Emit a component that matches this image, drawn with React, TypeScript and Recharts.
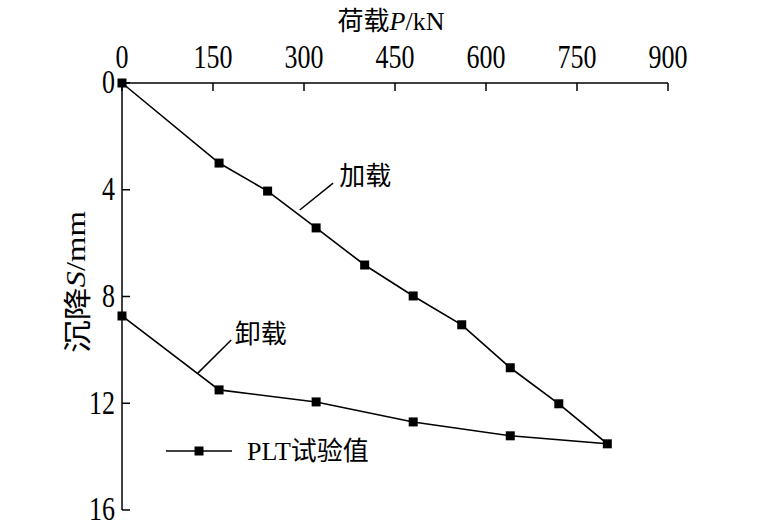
import React from 'react';
import { LineChart, Line, XAxis, YAxis, ReferenceLine, ReferenceDot } from 'recharts';

const loadP = [0, 160, 240, 320, 400, 480, 560, 640, 720, 800];
const loadS = [0, 3.0, 4.05, 5.43, 6.82, 7.98, 9.06, 10.67, 12.02, 13.52];
const unloadP = [640, 480, 320, 160, 0];
const unloadS = [13.22, 12.7, 11.95, 11.5, 8.73];
const xTicks = [0, 150, 300, 450, 600, 750, 900];
const yTicks = [0, 4, 8, 12, 16];
const seriesName = 'PLT试验值';
const loadLabel = '加载';
const unloadLabel = '卸载';
const loadLeader = [{ x: 293, y: 4.76 }, { x: 348, y: 3.75 }];
const loadLabelPos = { x: 358, y: 3.4 };
const unloadLeader = [{ x: 125, y: 10.87 }, { x: 180, y: 9.63 }];
const unloadLabelPos = { x: 186, y: 9.3 };

const data = [
  ...loadP.map((p, i) => ({ p, s: loadS[i] })),
  ...unloadP.map((p, i) => ({ p, s: unloadS[i] })),
];

const FONT = '"Liberation Serif", "Times New Roman", "Noto Sans CJK SC", serif';
const CJK = '"Noto Sans CJK SC", "Liberation Serif", serif';

const XTick = (props: any) => {
  const { x, y, payload } = props;
  return (
    <g transform={`translate(${x},${y}) scale(1,1.3)`}>
      <text x={0} y={0} textAnchor="middle" fontSize={26} fontFamily={FONT} fill="#000">
        {payload.value}
      </text>
    </g>
  );
};

const YTick = (props: any) => {
  const { x, y, payload } = props;
  return (
    <g transform={`translate(${x},${y}) scale(1,1.3)`}>
      <text x={0} y={8} textAnchor="end" fontSize={26} fontFamily={FONT} fill="#000">
        {payload.value}
      </text>
    </g>
  );
};

const Square = (props: any) => {
  const { cx, cy } = props;
  if (cx == null || cy == null) return null;
  return <rect x={cx - 4.5} y={cy - 4.5} width={9} height={9} fill="#000" />;
};

const XTitle = (props: any) => {
  const { viewBox } = props;
  const cx = viewBox.x + viewBox.width / 2 - 4;
  return (
    <text x={cx} y={viewBox.y - 52} textAnchor="middle" fontSize={26} fill="#000" fontFamily={FONT}>
      <tspan fontFamily={CJK}>荷载</tspan>
      <tspan fontStyle="italic">P</tspan>
      <tspan>/kN</tspan>
    </text>
  );
};

const YTitle = (props: any) => {
  const { viewBox } = props;
  const x = viewBox.x - 45;
  const y = 282;
  return (
    <g transform={`translate(${x},${y}) scale(1,1.17) rotate(-90)`}>
      <text x={0} y={0} textAnchor="middle" dominantBaseline="central" fontSize={28} fill="#000" fontFamily={FONT}>
        <tspan fontFamily={CJK}>沉降</tspan>
        <tspan fontStyle="italic">S</tspan>
        <tspan>/mm</tspan>
      </text>
    </g>
  );
};

const LegendBox = () => (
  <div style={{ position: 'absolute', left: 166, top: 436, display: 'flex', alignItems: 'center', whiteSpace: 'nowrap' }}>
    <svg width={66} height={20} style={{ display: 'block' }}>
      <line x1={0} y1={10} x2={66} y2={10} stroke="#000" strokeWidth={1.5} />
      <rect x={28.5} y={5.5} width={9} height={9} fill="#000" />
    </svg>
    <span style={{ marginLeft: 15, fontSize: 26, fontFamily: FONT, color: '#000', lineHeight: '26px' }}>
      PLT<span style={{ fontFamily: CJK }}>试验值</span>
    </span>
  </div>
);

const TextShape = (text: string) => (props: any) => {
  const { cx, cy } = props;
  return (
    <text x={cx} y={cy} dominantBaseline="central" fontSize={26} fontFamily={CJK} fill="#000">
      {text}
    </text>
  );
};

export default function App() {
  return (
    <div style={{ position: 'absolute', left: 0, top: 0, width: 760, height: 527, background: '#fff' }}>
      <LineChart width={760} height={527} data={data} margin={{ top: 82, right: 92, bottom: 17, left: 121 }}>
        <XAxis
          type="number"
          dataKey="p"
          orientation="top"
          domain={[0, 900]}
          ticks={xTicks}
          interval={0}
          height={1}
          tickSize={-8}
          tickMargin={23}
          tick={<XTick />}
          axisLine={{ stroke: '#000', strokeWidth: 1.5 }}
          tickLine={{ stroke: '#000', strokeWidth: 1.5 }}
          label={<XTitle />}
        />
        <YAxis
          type="number"
          dataKey="s"
          reversed
          domain={[0, 16]}
          ticks={yTicks}
          interval={0}
          width={1}
          tickSize={-8}
          tickMargin={15}
          tick={<YTick />}
          axisLine={{ stroke: '#000', strokeWidth: 1.5 }}
          tickLine={{ stroke: '#000', strokeWidth: 1.5 }}
          label={<YTitle />}
        />
        <Line
          type="linear"
          dataKey="s"
          name={seriesName}
          stroke="#000"
          strokeWidth={1.6}
          dot={<Square />}
          activeDot={false}
          isAnimationActive={false}
        />
        <ReferenceLine segment={loadLeader} stroke="#000" strokeWidth={1.5} ifOverflow="visible" />
        <ReferenceLine segment={unloadLeader} stroke="#000" strokeWidth={1.5} ifOverflow="visible" />
        <ReferenceDot x={loadLabelPos.x} y={loadLabelPos.y} r={0} shape={TextShape(loadLabel)} ifOverflow="visible" />
        <ReferenceDot x={unloadLabelPos.x} y={unloadLabelPos.y} r={0} shape={TextShape(unloadLabel)} ifOverflow="visible" />
      </LineChart>
      <LegendBox />
    </div>
  );
}
